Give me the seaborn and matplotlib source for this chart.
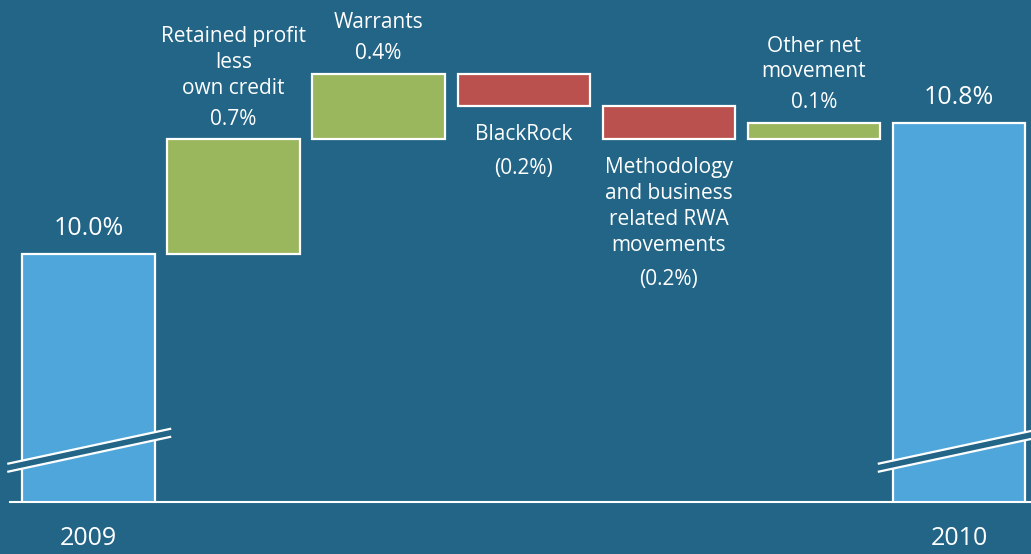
import matplotlib
matplotlib.use("Agg")
import matplotlib.pyplot as plt
import numpy as np
import pandas as pd
import seaborn as sns

# waterfall of the core tier 1 ratio, 2009 -> 2010
steps = ["2009", "Retained profit", "Warrants", "BlackRock", "Methodology", "Other", "2010"]
changes = [10.0, 0.7, 0.4, -0.2, -0.2, 0.1, 10.8]
is_total = [True, False, False, False, False, False, True]
names = ["", "Retained profit\nless\nown credit", "Warrants", "BlackRock",
         "Methodology\nand business\nrelated RWA\nmovements", "Other net\nmovement", ""]
value_labels = ["10.0%", "0.7%", "0.4%", "(0.2%)", "(0.2%)", "0.1%", "10.8%"]
year_labels = ["2009", "2010"]

bg = "#226587"
blue = "#4fa6db"
green = "#9bb75d"
red = "#ba514f"

bottoms, heights, colors = [], [], []
running = 0
for v, tot in zip(changes, is_total):
    if tot:
        bottoms.append(0)
        heights.append(v)
        colors.append(blue)
        running = v
    else:
        bottoms.append(running if v > 0 else running + v)
        heights.append(abs(v))
        colors.append(green if v > 0 else red)
        running += v

df = pd.DataFrame({"step": steps, "height": heights, "bottom": bottoms})

sns.set_style("white")
plt.rcParams["font.family"] = ["Open Sans", "DejaVu Sans"]

fig = plt.figure(figsize=(10.31, 5.54), dpi=100, facecolor=bg)
ax = fig.add_axes([10 / 1031, 52 / 554, 1 - 10 / 1031, 502 / 554])
ax.set_facecolor(bg)

sns.barplot(data=df, x="step", y="height", bottom=df["bottom"].to_numpy(), width=0.913,
            color=blue, saturation=1, edgecolor="white", linewidth=1.6, ax=ax, zorder=2)
for p, c in zip(ax.patches, colors):
    p.set_facecolor(c)

ax.set_xlim(-0.541, 6.496)
ax.set_ylim(8.485, 11.55)
ax.set_xticks([0, 6], year_labels)
ax.set_yticks([])
ax.set_xlabel("")
ax.set_ylabel("")
ax.tick_params(axis="x", length=0, pad=17, labelsize=18, labelcolor="white")
for s in ["left", "right", "top"]:
    ax.spines[s].set_visible(False)
ax.spines["bottom"].set_color("white")
ax.spines["bottom"].set_linewidth(1.5)

# labels
fs = 15
px = dict(textcoords="offset pixels", ha="center", color="white", linespacing=1.3)
for i, (v, tot) in enumerate(zip(changes, is_total)):
    top = bottoms[i] + heights[i]
    if tot:
        ax.annotate(value_labels[i], (i, top), xytext=(0, 25), va="center", fontsize=18, **px)
    elif v > 0:
        val = ax.annotate(value_labels[i], (i, top), xytext=(0, 20), va="center", fontsize=fs, **px)
        ax.annotate(names[i], (0.5, 1), xycoords=val, xytext=(0, 10), va="bottom", fontsize=fs, **px)
    else:
        nm = ax.annotate(names[i], (i, bottoms[i]), xytext=(0, -18), va="top", fontsize=fs, **px)
        ax.annotate(value_labels[i], (0.5, 0), xycoords=nm, xytext=(0, -13), va="top", fontsize=fs, **px)

# axis break marks on the two total bars
brk_y, slope, gap = 8.80, 0.19, 0.0245
for i in [0, 6]:
    xs = np.array([i - 0.56, i + 0.57])
    yu = brk_y + gap + slope * (xs - i)
    yl = brk_y - gap + slope * (xs - i)
    ax.fill_between(xs, yl, yu, color=bg, zorder=3, clip_on=False, linewidth=0)
    ax.plot(xs, yu, color="white", lw=1.6, zorder=4, clip_on=False, solid_capstyle="butt")
    ax.plot(xs, yl, color="white", lw=1.6, zorder=4, clip_on=False, solid_capstyle="butt")

fig.savefig("out.png", dpi=100, facecolor=bg)
